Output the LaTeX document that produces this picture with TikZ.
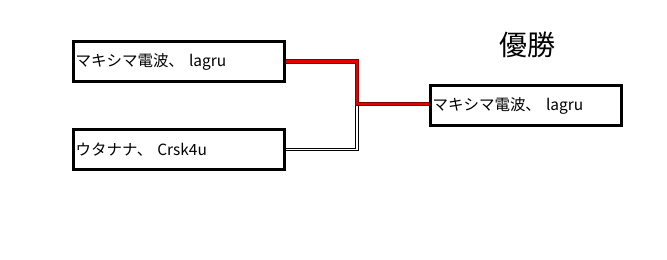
\documentclass[tikz,border=0pt]{standalone}
\usepackage{fontspec}
\setmainfont{Noto Sans CJK JP}
\usetikzlibrary{positioning, calc}

\begin{document}
\begin{tikzpicture}[
  x=0.75pt, y=-0.75pt,
  entry/.style={draw=black, line width=2.2pt, fill=white, minimum width=158pt,
                minimum height=30.5pt, inner sep=1pt, text width=155pt, align=left,
                font=\fontsize{11.6}{13}\selectfont},
  winline/.style={draw=red!50!black, line width=0.55pt, double=red!90!black, double distance=2pt},
  loseline/.style={draw=black, line width=0.6pt, double=white, double distance=1.4pt}
]
\useasboundingbox (0,0) rectangle (667,260);

% Entries
\node[entry] (e1) at (179,61.5) {マキシマ電波、 lagru};
\node[entry] (e2) at (179,149.5) {ウタナナ、 Crsk4u};
\node[entry, minimum width=143pt, text width=140pt] (w) at (526,105.5) {マキシマ電波、 lagru};

% Title
\node[font=\fontsize{21}{24}\selectfont] (t) at (527,45) {優勝};

% Connectors
\coordinate (j) at (357,104);
\draw[loseline] (e2.east) -- (e2.east -| j) -- (j);
\draw[winline] (e1.east) -- (e1.east -| j) -- (j) -- (j -| w.west);
\end{tikzpicture}
\end{document}
